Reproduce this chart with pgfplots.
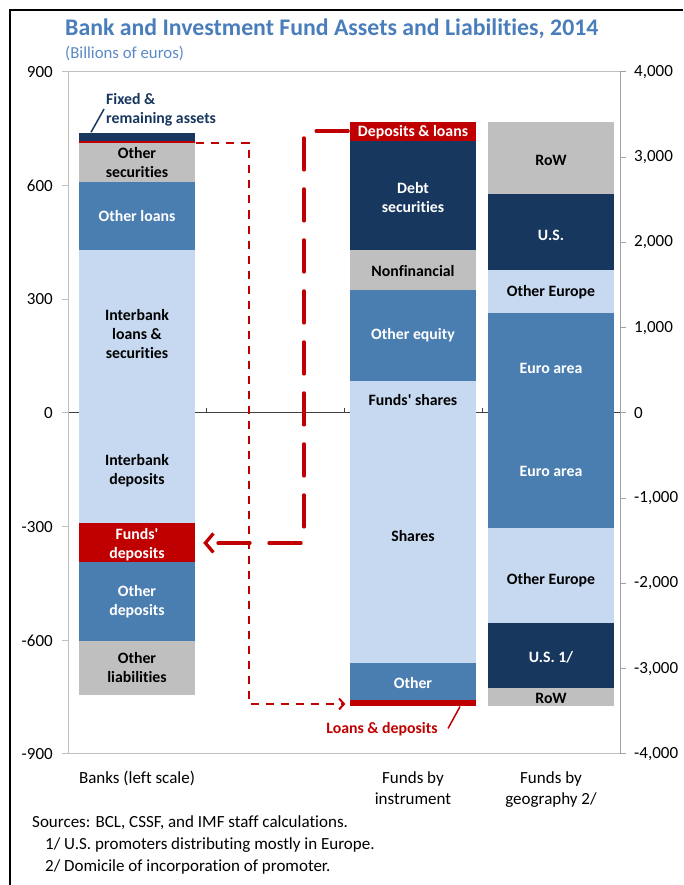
\documentclass[border=0pt]{standalone}
\usepackage{fontspec}
\setmainfont{Carlito}[Ligatures=NoCommon]
\usepackage{pgfplots}
\pgfplotsset{compat=1.18}
\usetikzlibrary{arrows.meta}

\definecolor{lblue}{HTML}{C6D9F0}
\definecolor{sblue}{HTML}{4A7EB0}
\definecolor{navy}{HTML}{17375E}
\definecolor{lgray}{HTML}{BFBFBF}
\definecolor{dred}{HTML}{C00000}
\definecolor{titleblue}{HTML}{4A7EBB}
\definecolor{subblue}{HTML}{5A8AC6}
\definecolor{axgray}{HTML}{BFBFBF}

\newcommand{\lab}{\fontsize{15.8}{19}\selectfont\bfseries}
\newcommand{\tickfont}{\fontsize{17}{21}\selectfont}

\pgfplotsset{
  base/.style={scale only axis, width=552pt, height=682pt,
    at={(68pt,131pt)}, anchor=south west, xmin=0, xmax=4,
    clip=false, ybar stacked},
  banks/.style={base, ymin=-900, ymax=900, bar width=0.84},
  funds/.style={base, ymin=-4000, ymax=4000, bar width=0.913},
}

\begin{document}
\begin{tikzpicture}
\useasboundingbox (0,0) rectangle (683pt,885pt);
\draw[black, line width=2pt] (10pt,0) -- (10pt,875pt) -- (683pt,875pt);

\node[anchor=base west, inner sep=0, text=titleblue,
  font=\fontsize{23.8}{28}\selectfont\bfseries] at (65pt,849pt)
  {Bank and Investment Fund Assets and Liabilities, 2014};
\node[anchor=base west, inner sep=0, text=subblue, font=\fontsize{16.8}{20}\selectfont]
  at (65pt,826pt) {(Billions of euros)};

% zero line, under the bars
\begin{axis}[banks, hide axis]
\draw[black!75, line width=1pt] (axis cs:0,0) -- (axis cs:4,0);
\draw[black!75, line width=0.8pt] (axis cs:1,0) -- ([yshift=5pt]axis cs:1,0);
\draw[black!75, line width=0.8pt] (axis cs:2,0) -- ([yshift=5pt]axis cs:2,0);
\draw[black!75, line width=0.8pt] (axis cs:3,0) -- ([yshift=5pt]axis cs:3,0);
\end{axis}

% banks, assets (left scale)
\begin{axis}[banks,
  axis line style={axgray, line width=1pt},
  xtick=\empty,
  ytick={-900,-600,-300,0,300,600,900},
  yticklabels={-900,-600,-300,0,300,600,900},
  ytick pos=left, tick align=outside, major tick length=6pt,
  tick style={axgray, line width=1pt},
  yticklabel style={font=\tickfont, inner sep=0pt, xshift=-9pt},
]
\addplot[fill=lblue, draw=none] coordinates {(0.5,431)};
\addplot[fill=sblue, draw=none] coordinates {(0.5,178)};
\addplot[fill=lgray, draw=none] coordinates {(0.5,104)};
\addplot[fill=dred, draw=none] coordinates {(0.5,4)};
\addplot[fill=navy, draw=none] coordinates {(0.5,21)};

\node[font=\tickfont, anchor=north, inner sep=0] at (axis cs:0.5,-900) [yshift=-17pt] {Banks (left scale)};
\node[font=\tickfont, anchor=north, inner sep=0, align=center] at (axis cs:2.5,-900) [yshift=-17pt] {Funds by\\instrument};
\node[font=\tickfont, anchor=north, inner sep=0, align=center] at (axis cs:3.5,-900) [yshift=-17pt] {Funds by\\geography 2/};
\end{axis}

% banks, liabilities (left scale)
\begin{axis}[banks, hide axis]
\addplot[fill=lblue, draw=none] coordinates {(0.5,-291)};
\addplot[fill=dred, draw=none] coordinates {(0.5,-101)};
\addplot[fill=sblue, draw=none] coordinates {(0.5,-209)};
\addplot[fill=lgray, draw=none] coordinates {(0.5,-143)};
\end{axis}

% funds, assets (right scale)
\begin{axis}[funds,
  axis x line=none, axis y line*=right,
  axis line style={axgray!85!black, line width=1pt},
  ytick={-4000,-3000,-2000,-1000,0,1000,2000,3000,4000},
  yticklabels={{-4,000},{-3,000},{-2,000},{-1,000},0,{1,000},{2,000},{3,000},{4,000}},
  tick align=outside, major tick length=6pt,
  tick style={axgray!85!black, line width=1pt},
  yticklabel style={font=\tickfont, inner sep=0pt, xshift=8pt},
]
% by instrument
\addplot[fill=lblue, draw=none] coordinates {(2.5,375) (3.5,0)};
\addplot[fill=sblue, draw=none] coordinates {(2.5,1065) (3.5,0)};
\addplot[fill=lgray, draw=none] coordinates {(2.5,469) (3.5,0)};
\addplot[fill=navy, draw=none] coordinates {(2.5,1280) (3.5,0)};
\addplot[fill=dred, draw=none] coordinates {(2.5,227) (3.5,0)};
% by geography
\addplot[fill=sblue, draw=none] coordinates {(2.5,0) (3.5,1171)};
\addplot[fill=lblue, draw=none] coordinates {(2.5,0) (3.5,503)};
\addplot[fill=navy, draw=none] coordinates {(2.5,0) (3.5,890)};
\addplot[fill=lgray, draw=none] coordinates {(2.5,0) (3.5,852)};
\end{axis}

% funds, liabilities (right scale)
\begin{axis}[funds, hide axis]
\addplot[fill=lblue, draw=none] coordinates {(2.5,-2927) (3.5,0)};
\addplot[fill=sblue, draw=none] coordinates {(2.5,-445) (3.5,0)};
\addplot[fill=dred, draw=none] coordinates {(2.5,-63) (3.5,0)};
\addplot[fill=sblue, draw=none] coordinates {(2.5,0) (3.5,-1354)};
\addplot[fill=lblue, draw=none] coordinates {(2.5,0) (3.5,-1105)};
\addplot[fill=navy, draw=none] coordinates {(2.5,0) (3.5,-761)};
\addplot[fill=lgray, draw=none] coordinates {(2.5,0) (3.5,-217)};
\end{axis}

% labels and connectors, left scale
\begin{axis}[banks, hide axis]
\node[font=\lab, align=center] at (axis cs:0.5,662) {Other\\securities};
\node[font=\lab, text=white] at (axis cs:0.5,521) {Other loans};
\node[font=\lab, align=center] at (axis cs:0.5,209) {Interbank\\loans \&\\securities};
\node[font=\lab, align=center] at (axis cs:0.5,-151) {Interbank\\deposits};
\node[font=\lab, align=center, text=white] at (axis cs:0.5,-347) {Funds\textquotesingle\\deposits};
\node[font=\lab, align=center, text=white] at (axis cs:0.5,-498) {Other\\deposits};
\node[font=\lab, align=center] at (axis cs:0.5,-672) {Other\\liabilities};

\draw[navy, line width=1.5pt] (axis cs:0.167,741) -- (axis cs:0.261,802);
\node[font=\lab, text=navy, align=left, anchor=west, inner sep=0]
  at (axis cs:0.275,799) {Fixed \&\\remaining assets};

\draw[dred, line width=2pt, dash pattern=on 8pt off 7pt,
  -{Straight Barb[length=5pt,width=11pt]}]
  (axis cs:0.93,712) -- (axis cs:1.312,712) -- (axis cs:1.312,-768) -- (axis cs:2.01,-768);
\draw[dred, line width=3.3pt, line cap=round, dash pattern=on 32pt off 19pt,
  -{Straight Barb[length=8pt,width=19pt]}]
  (axis cs:2.03,744) -- (axis cs:1.71,744) -- (axis cs:1.71,-343) -- (axis cs:0.98,-343);
\end{axis}

% labels, right scale
\begin{axis}[funds, hide axis]
\node[font=\lab, text=white] at (axis cs:2.5,3290) {Deposits \& loans};
\node[font=\lab, text=white, align=center] at (axis cs:2.5,2529) {Debt\\securities};
\node[font=\lab] at (axis cs:2.5,1663) {Nonfinancial};
\node[font=\lab, text=white] at (axis cs:2.5,913) {Other equity};
\node[font=\lab] at (axis cs:2.5,152) {Funds\textquotesingle{} shares};
\node[font=\lab] at (axis cs:2.5,-1440) {Shares};
\node[font=\lab, text=white] at (axis cs:2.5,-3173) {Other};
\draw[dred, line width=1.5pt] (axis cs:2.754,-3700) -- (axis cs:2.841,-3443);
\node[font=\lab, text=dred] at (axis cs:2.275,-3712) {Loans \& deposits};

\node[font=\lab] at (axis cs:3.5,2963) {RoW};
\node[font=\lab, text=white] at (axis cs:3.5,2084) {U.S.};
\node[font=\lab] at (axis cs:3.5,1417) {Other Europe};
\node[font=\lab, text=white] at (axis cs:3.5,527) {Euro area};
\node[font=\lab, text=white] at (axis cs:3.5,-691) {Euro area};
\node[font=\lab] at (axis cs:3.5,-1956) {Other Europe};
\node[font=\lab, text=white] at (axis cs:3.5,-2869) {U.S. 1/};
\node[font=\lab] at (axis cs:3.5,-3349) {RoW};
\end{axis}

\node[anchor=base west, inner sep=0, font=\fontsize{17}{19}\selectfont] at (32pt,57pt)
  {Sources: BCL, CSSF, and IMF staff calculations.};
\node[anchor=base west, inner sep=0, font=\fontsize{17}{19}\selectfont] at (45pt,35pt)
  {1/ U.S. promoters distributing mostly in Europe.};
\node[anchor=base west, inner sep=0, font=\fontsize{17}{19}\selectfont] at (45pt,13pt)
  {2/ Domicile of incorporation of promoter.};
\end{tikzpicture}
\end{document}
